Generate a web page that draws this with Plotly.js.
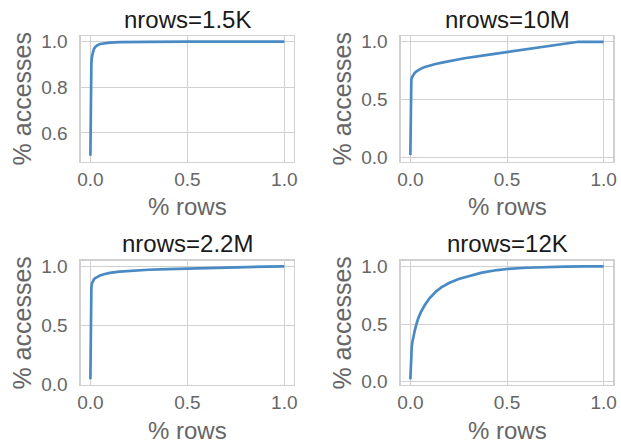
<!DOCTYPE html>
<html>
<head>
<meta charset="utf-8">
<script src="https://cdn.plot.ly/plotly-3.0.1.min.js"></script>
<style>html,body{margin:0;padding:0;background:#fff;}#chart{width:621px;height:444px;}</style>
</head>
<body>
<div id="chart"></div>
<script>
// Panel titles
const titles = ["nrows=1.5K", "nrows=10M", "nrows=2.2M", "nrows=12K"];
const xLabel = "% rows";
const yLabel = "% accesses";

// nrows=1.5K
const x1 = [0, 0.0005, 0.001, 0.002, 0.003, 0.005, 0.008, 0.012, 0.018, 0.025, 0.035, 0.05, 0.07, 0.1, 0.15, 0.2, 0.3, 0.5, 0.7, 1.0];
const y1 = [0.5, 0.6, 0.7, 0.8, 0.86, 0.905, 0.935, 0.955, 0.968, 0.977, 0.984, 0.99, 0.993, 0.996, 0.998, 0.999, 0.9995, 1.0, 1.0, 1.0];
// nrows=10M
const x2 = [0, 0.0005, 0.001, 0.002, 0.003, 0.005, 0.008, 0.012, 0.02, 0.03, 0.04, 0.055, 0.075, 0.1, 0.13, 0.17, 0.22, 0.28, 0.4, 0.5, 0.6, 0.7, 0.8, 0.87, 0.9, 1.0];
const y2 = [0.02, 0.2, 0.4, 0.58, 0.64, 0.672, 0.69, 0.705, 0.725, 0.742, 0.755, 0.768, 0.782, 0.795, 0.808, 0.822, 0.838, 0.858, 0.887, 0.912, 0.935, 0.959, 0.983, 1.0, 1.0, 1.0];
// nrows=2.2M
const x3 = [0, 0.0005, 0.001, 0.002, 0.003, 0.005, 0.008, 0.012, 0.018, 0.025, 0.035, 0.05, 0.07, 0.1, 0.15, 0.2, 0.3, 0.4, 0.5, 0.6, 0.7, 0.8, 0.9, 1.0];
const y3 = [0.04, 0.3, 0.5, 0.68, 0.76, 0.82, 0.855, 0.875, 0.89, 0.9, 0.91, 0.922, 0.933, 0.944, 0.955, 0.962, 0.971, 0.977, 0.982, 0.987, 0.991, 0.994, 0.997, 1.0];
// nrows=12K
const x4 = [0, 0.001, 0.002, 0.003, 0.005, 0.007, 0.01, 0.015, 0.023, 0.03, 0.04, 0.055, 0.075, 0.1, 0.13, 0.16, 0.2, 0.25, 0.3, 0.37, 0.45, 0.5, 0.6, 0.7, 0.8, 0.9, 1.0];
const y4 = [0.02, 0.1, 0.16, 0.2, 0.255, 0.295, 0.34, 0.39, 0.445, 0.49, 0.545, 0.605, 0.665, 0.725, 0.778, 0.818, 0.855, 0.89, 0.915, 0.945, 0.968, 0.977, 0.988, 0.994, 0.997, 0.999, 1.0];

const W = 621, H = 444;
const lineColor = "rgb(74,138,196)";
const gridColor = "#d0d0d0";
const tickColor = "#666666";
const FONT = "Liberation Sans, Arial, sans-serif";

const xs = [x1, x2, x3, x4];
const ys = [y1, y2, y3, y4];

// pixel boxes [left, right, top, bottom]
const boxes = [
  [80.7, 294, 36, 161.5],
  [400.7, 613.3, 36, 161.5],
  [80.7, 294, 260.7, 385],
  [400.7, 613.3, 260.7, 385]
];
const yRanges = [[0.475, 1.025], [-0.035, 1.05], [-0.008, 1.048], [-0.029, 1.049]];
const yDticks = [0.2, 0.5, 0.5, 0.5];

const data = [];
const layout = {
  width: W, height: H,
  margin: {l: 0, r: 0, t: 0, b: 0},
  paper_bgcolor: "#fff", plot_bgcolor: "#fff",
  showlegend: false,
  font: {family: FONT},
  annotations: []
};

for (let i = 0; i < 4; i++) {
  const n = i === 0 ? "" : String(i + 1);
  data.push({
    x: xs[i], y: ys[i], type: "scatter", mode: "lines",
    line: {color: lineColor, width: 2.7},
    xaxis: "x" + n, yaxis: "y" + n, hoverinfo: "skip"
  });
  const b = boxes[i];
  const common = {
    showgrid: true, gridcolor: gridColor, gridwidth: 1,
    showline: true, linecolor: gridColor, linewidth: 1.3, mirror: true,
    zeroline: false, ticks: "", tickformat: ".1f",
    tickfont: {family: FONT, size: 19, color: tickColor},
    fixedrange: true
  };
  layout["xaxis" + n] = Object.assign({}, common, {
    domain: [b[0] / W, b[1] / W],
    range: [-0.05, 1.05], tick0: 0, dtick: 0.5,
    anchor: "y" + n, ticklabelstandoff: 0
  });
  layout["yaxis" + n] = Object.assign({}, common, {
    domain: [1 - b[3] / H, 1 - b[2] / H],
    range: yRanges[i], tick0: 0, dtick: yDticks[i],
    anchor: "x" + n, ticklabelstandoff: 8
  });
  const cx = (b[0] + b[1]) / 2;
  const cy = (b[2] + b[3]) / 2;
  layout.annotations.push({
    text: titles[i], xref: "paper", yref: "paper",
    x: cx / W, y: 1 - (b[2] - 17) / H, xanchor: "center", yanchor: "middle",
    showarrow: false, font: {family: FONT, size: 24, color: "#1a1a1a"}
  });
  layout.annotations.push({
    text: xLabel, xref: "paper", yref: "paper",
    x: cx / W, y: 1 - (b[3] + 45) / H, xanchor: "center", yanchor: "middle",
    showarrow: false, font: {family: FONT, size: 24, color: tickColor}
  });
  layout.annotations.push({
    text: yLabel, xref: "paper", yref: "paper", textangle: -90,
    x: (b[0] - 59) / W, y: 1 - cy / H, xanchor: "center", yanchor: "middle",
    showarrow: false, font: {family: FONT, size: 25, color: tickColor}
  });
}

Plotly.newPlot("chart", data, layout, {staticPlot: true, displayModeBar: false});
</script>
</body>
</html>
